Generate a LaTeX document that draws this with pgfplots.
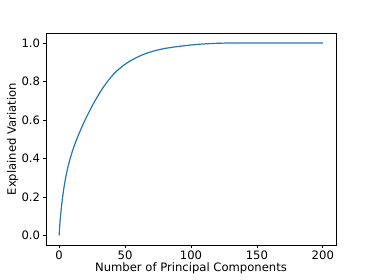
\documentclass[border=0pt]{standalone}
\usepackage{fontspec}
\setmainfont{DejaVu Sans}
\usepackage{pgfplots}
\pgfplotsset{compat=1.18}
\definecolor{mplblue}{HTML}{1F77B4}
\begin{document}
\begin{tikzpicture}
\begin{axis}[
  name=ax,
  scale only axis,
  width=290bp, height=211.7bp,
  xmin=-10, xmax=210, ymin=-0.05, ymax=1.05,
  xtick={0,50,100,150,200},
  ytick={0,0.2,0.4,0.6,0.8,1.0},
  yticklabel style={/pgf/number format/.cd,fixed,fixed zerofill,precision=1},
  /pgf/number format/assume math mode=true,
  tick align=outside,
  major tick length=2.8bp,
  tick style={black, line width=0.65bp},
  axis line style={black, line width=0.65bp},
  xtick pos=bottom, ytick pos=left,
  ticklabel style={font=\fontsize{11.6bp}{13bp}\selectfont, inner sep=0pt},
  xticklabel shift=3bp, yticklabel shift=3bp,
  label style={font=\fontsize{11.6bp}{13bp}\selectfont},
  xlabel={Number of Principal Components},
  ylabel={Explained Variation},
  xlabel style={inner sep=0pt, yshift=-3bp},
  ylabel style={inner sep=0pt, yshift=3bp},
]
\addplot[mplblue, line width=1.2bp, smooth, tension=0.5] coordinates {
(0,0) (0.4,0.05) (1,0.098) (1.6,0.140) (2.3,0.182) (3.1,0.224) (4,0.264)
(5.2,0.310) (6.6,0.354) (8.2,0.396) (10,0.437) (11.7,0.470) (13.5,0.503)
(15.5,0.536) (17.7,0.571) (20.2,0.607) (22.8,0.643) (25.6,0.680) (28.6,0.716)
(32.5,0.760) (36.7,0.800) (42,0.843) (48,0.879) (54,0.907) (60.8,0.931)
(67,0.948) (73.4,0.961) (80,0.971) (88.6,0.980) (97,0.987) (106,0.993)
(116,0.997) (128,0.9994) (145,1.0) (170,1.0) (200,1.0)
};
\end{axis}
\pgfresetboundingbox
\path[use as bounding box] ([xshift=-46bp,yshift=-35bp]ax.south west) rectangle ([xshift=38bp,yshift=33.3bp]ax.north east);
\end{tikzpicture}
\end{document}
